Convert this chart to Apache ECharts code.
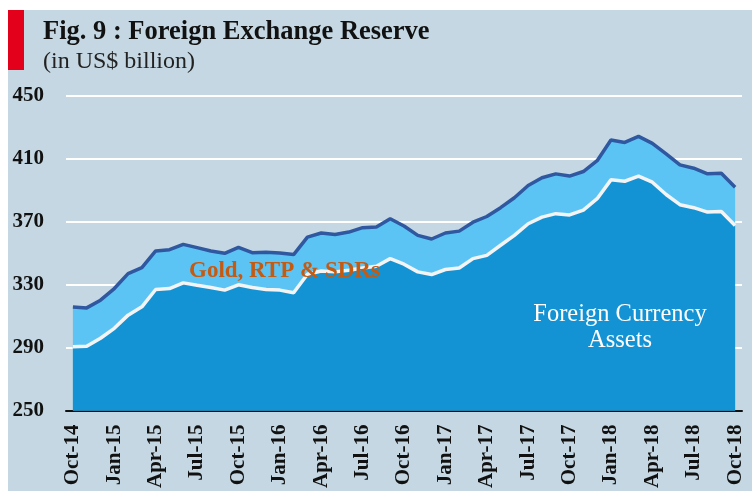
<!DOCTYPE html>
<html>
<head>
<meta charset="utf-8">
<script src="https://cdn.jsdelivr.net/npm/echarts@6/dist/echarts.min.js"></script>
<style>
	html, body { margin: 0; padding: 0; background: #fff; }
	#chart { position: absolute; left: 8px; top: 10px; width: 744px; height: 481px; background: #c4d7e2; }
</style>
</head>
<body>
<div id="chart"></div>
<script>
// months Oct-14 .. Oct-18
const months = ['Oct-14', 'Nov-14', 'Dec-14', 'Jan-15', 'Feb-15', 'Mar-15', 'Apr-15', 'May-15', 'Jun-15', 'Jul-15', 'Aug-15', 'Sep-15',
	'Oct-15', 'Nov-15', 'Dec-15', 'Jan-16', 'Feb-16', 'Mar-16', 'Apr-16', 'May-16', 'Jun-16', 'Jul-16', 'Aug-16', 'Sep-16',
	'Oct-16', 'Nov-16', 'Dec-16', 'Jan-17', 'Feb-17', 'Mar-17', 'Apr-17', 'May-17', 'Jun-17', 'Jul-17', 'Aug-17', 'Sep-17',
	'Oct-17', 'Nov-17', 'Dec-17', 'Jan-18', 'Feb-18', 'Mar-18', 'Apr-18', 'May-18', 'Jun-18', 'Jul-18', 'Aug-18', 'Sep-18',
	'Oct-18'];

// total reserve (top line)
const totalReserve = [315.8, 315.3, 320.2, 327.6, 337.1, 340.9, 351.5, 352.3, 355.7, 353.6, 351.5, 350.0,
	353.8, 350.4, 350.6, 350.2, 349.2, 360.3, 362.9, 361.9, 363.5, 366.3, 366.7, 372.0,
	367.4, 361.4, 359.1, 362.9, 364.1, 369.8, 373.4, 379.0, 385.3, 393.1, 398.0, 400.5,
	399.1, 402.0, 408.9, 422.0, 420.5, 424.3, 419.9, 413.2, 406.2, 404.1, 400.5, 400.9,
	392.0];

// foreign currency assets (white line)
const fca = [290.6, 290.9, 296.0, 302.3, 310.7, 316.0, 327.0, 327.6, 331.2, 329.7, 328.3, 326.6,
	330.0, 328.3, 327.0, 326.6, 324.9, 336.7, 338.8, 338.2, 339.2, 340.7, 341.8, 346.6,
	343.1, 338.2, 336.5, 339.7, 340.7, 346.6, 348.7, 355.1, 361.4, 368.8, 373.0, 375.2,
	374.4, 377.5, 384.7, 396.7, 395.8, 399.0, 395.2, 387.4, 380.9, 379.0, 376.2, 376.6,
	367.7];

const yTicks = [250, 290, 330, 370, 410, 450];

const serif = '"Liberation Serif", "DejaVu Serif", serif';
const chart = echarts.init(document.getElementById('chart'));

chart.setOption({
	animation: false,
	backgroundColor: '#c4d7e2',
	grid: { left: 58, right: 10, top: 86, bottom: 80 },
	graphic: [
		{ type: 'rect', left: 0, top: 0, z: 100, shape: { width: 16, height: 60 }, style: { fill: '#e3001b' } },
		{ type: 'text', x: 35, y: 22, z: 100, style: { text: 'Fig. 9 : Foreign Exchange Reserve', font: 'bold 26.5px ' + serif, fill: '#111', textVerticalAlign: 'middle' } },
		{ type: 'text', x: 35, y: 52, z: 100, style: { text: '(in US$ billion)', font: '24px ' + serif, fill: '#222', textVerticalAlign: 'middle' } },
		{ type: 'text', x: 181, y: 261, z: 100, style: { text: 'Gold, RTP & SDRs', font: 'bold 23px ' + serif, fill: '#c55a11', textVerticalAlign: 'middle' } },
		{ type: 'text', x: 612, y: 305, z: 100, style: { text: 'Foreign Currency', font: '24.5px ' + serif, fill: '#ffffff', textAlign: 'center', textVerticalAlign: 'middle' } },
		{ type: 'text', x: 612, y: 331, z: 100, style: { text: 'Assets', font: '24.5px ' + serif, fill: '#ffffff', textAlign: 'center', textVerticalAlign: 'middle' } }
	],
	xAxis: {
		type: 'category',
		data: months,
		boundaryGap: true,
		axisLine: { lineStyle: { color: '#111', width: 2 } },
		axisTick: { interval: 2, length: 8, lineStyle: { color: '#111', width: 2 } },
		axisLabel: {
			interval: 2,
			rotate: 90,
			margin: 14,
			color: '#111',
			fontFamily: serif,
			fontWeight: 'bold',
			fontSize: 21
		},
		splitLine: { show: false }
	},
	yAxis: {
		type: 'value',
		min: yTicks[0],
		max: yTicks[yTicks.length - 1],
		interval: 40,
		axisLine: { show: false },
		axisTick: { show: false },
		axisLabel: { margin: 22, color: '#111', fontFamily: serif, fontWeight: 'bold', fontSize: 21 },
		splitLine: { lineStyle: { color: '#ffffff', width: 2 } }
	},
	series: [
		{
			name: 'Gold, RTP & SDRs',
			type: 'line',
			data: totalReserve,
			symbol: 'none',
			lineStyle: { color: '#2f58a0', width: 3.5 },
			areaStyle: { color: '#5cc4f5', opacity: 1, origin: 'start' },
			z: 2
		},
		{
			name: 'Foreign Currency Assets',
			type: 'line',
			data: fca,
			symbol: 'none',
			lineStyle: { color: '#f4f4f4', width: 3.5 },
			areaStyle: { color: '#1493d4', opacity: 1, origin: 'start' },
			z: 3
		}
	]
});
</script>
</body>
</html>
